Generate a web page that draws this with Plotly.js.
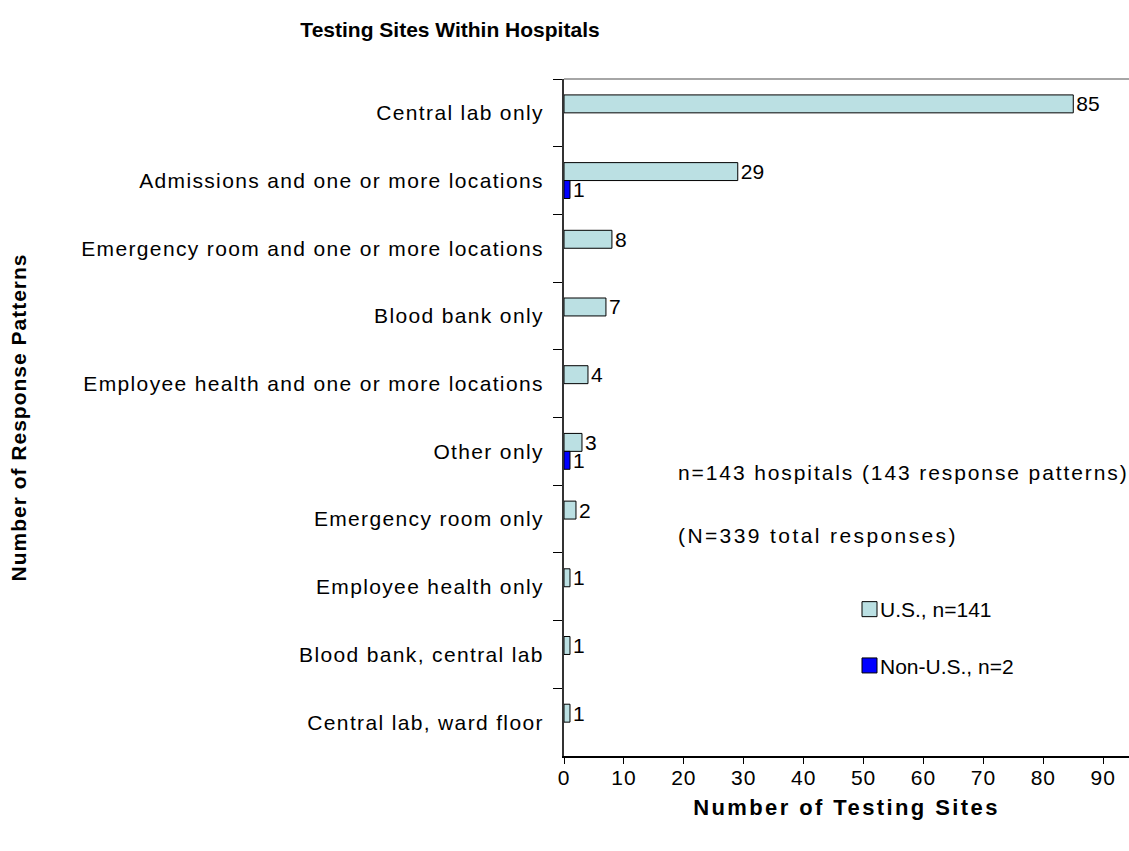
<!DOCTYPE html>
<html>
<head>
<meta charset="utf-8">
<script src="https://cdn.plot.ly/plotly-3.0.1.min.js"></script>
<style>
  html, body { margin: 0; padding: 0; background: #fff; }
  #chart { width: 1129px; height: 851px; }
</style>
</head>
<body>
<div id="chart"></div>
<script>
const categories = [
  "Central lab only",
  "Admissions and one or more locations",
  "Emergency room and one or more locations",
  "Blood bank only",
  "Employee health and one or more locations",
  "Other only",
  "Emergency room only",
  "Employee health only",
  "Blood bank, central lab",
  "Central lab, ward floor"
];
const usValues = [85, 29, 8, 7, 4, 3, 2, 1, 1, 1];
const nonUsValues = [null, 1, null, null, null, 1, null, null, null, null];
const seriesNames = ["U.S., n=141", "Non-U.S., n=2"];
const xTicks = [0, 10, 20, 30, 40, 50, 60, 70, 80, 90];
const notes = ["n=143 hospitals (143 response patterns)", "(N=339 total responses)"];

const FONT = "Liberation Sans, Arial, Helvetica, sans-serif";

const traces = [
  {
    type: "bar", orientation: "h", name: seriesNames[0], legendgroup: "us",
    y: categories, x: usValues,
    text: usValues.map(v => v == null ? "" : String(v)),
    textposition: "outside", cliponaxis: false, constraintext: "none",
    textfont: {family: FONT, size: 21, color: "#000"},
    marker: {color: "#BBE0E3", line: {color: "#000", width: 1}},
    hoverinfo: "x+y"
  },
  {
    type: "bar", orientation: "h", name: seriesNames[1], legendgroup: "nonus",
    y: categories, x: nonUsValues,
    text: nonUsValues.map(v => v == null ? "" : String(v)),
    textposition: "outside", cliponaxis: false, constraintext: "none",
    textfont: {family: FONT, size: 21, color: "#000"},
    marker: {color: "#0000FF", line: {color: "#000", width: 1}},
    hoverinfo: "x+y"
  }
];

const NOTE_X = (678 - 564) / 565;

const layout = {
  width: 1129, height: 851,
  margin: {l: 564, r: 0, t: 79, b: 95},
  paper_bgcolor: "#fff", plot_bgcolor: "#fff",
  font: {family: FONT, size: 21, color: "#000"},
  title: {
    text: "<b>Testing Sites Within Hospitals</b>",
    font: {family: FONT, size: 21, color: "#000"},
    x: 450 / 1129, xref: "container", xanchor: "center",
    y: 1 - 30 / 851, yref: "container", yanchor: "middle"
  },
  barmode: "group", bargap: 0.47, bargroupgap: 0,
  xaxis: {
    range: [0, 94.3], tickvals: xTicks, ticktext: xTicks.map(String),
    showgrid: false, zeroline: false,
    showline: true, linecolor: "#000", linewidth: 1.5,
    ticks: "outside", ticklen: 6, tickcolor: "#000", tickwidth: 1,
    ticklabelstandoff: -4,
    tickfont: {family: FONT, size: 21, color: "#000"},
    title: {text: "<b>Number of Testing Sites</b>", font: {family: FONT, size: 22, color: "#000"}, standoff: 12},
    fixedrange: true
  },
  yaxis: {
    type: "category", categoryorder: "array", categoryarray: categories,
    range: [9.5, -0.5],
    tickson: "boundaries",
    showgrid: false, zeroline: false,
    showline: true, linecolor: "#333", linewidth: 2,
    ticks: "outside", ticklen: 9, tickcolor: "#000", tickwidth: 1,
    ticklabelstandoff: 14,
    tickfont: {family: FONT, size: 21, color: "#000"},
    title: {text: "<b>Number of Response Patterns</b>", font: {family: FONT, size: 21, color: "#000"}, standoff: 103},
    fixedrange: true
  },
  showlegend: true,
  legend: {
    x: (840 - 564) / 565, xanchor: "left",
    y: (756 - 589) / 677, yanchor: "top",
    bgcolor: "rgba(0,0,0,0)", borderwidth: 0,
    traceorder: "grouped", tracegroupgap: 26,
    font: {family: FONT, size: 21, color: "#000"}
  },
  annotations: [
    {text: notes[0], xref: "paper", yref: "paper", x: NOTE_X, y: (756 - 472) / 677,
     xanchor: "left", yanchor: "middle", showarrow: false, font: {family: FONT, size: 21, color: "#000"}},
    {text: notes[1], xref: "paper", yref: "paper", x: NOTE_X, y: (756 - 535) / 677,
     xanchor: "left", yanchor: "middle", showarrow: false, font: {family: FONT, size: 21, color: "#000"}}
  ],
  shapes: [
    {type: "line", xref: "paper", yref: "paper", x0: 0, x1: 1, y0: 1, y1: 1,
     line: {color: "#888", width: 1.5}}
  ]
};

Plotly.newPlot("chart", traces, layout, {displayModeBar: false, responsive: false}).then(function (gd) {
  const fl = gd._fullLayout;
  const svgRect = gd.querySelector(".main-svg").getBoundingClientRect();
  // mimic the wide letter spacing of the original rendering
  gd.querySelectorAll(".yaxislayer-above .ytick text").forEach(function (t) { t.style.letterSpacing = "1.35px"; });
  gd.querySelectorAll(".xaxislayer-above .xtick text").forEach(function (t) { t.style.letterSpacing = "1px"; });
  const spacing = ["1.9px", "2.4px"];
  const targetLeft = fl.margin.l + NOTE_X * fl._size.w;
  gd.querySelectorAll(".annotation-text").forEach(function (t, i) {
    t.style.letterSpacing = spacing[i] || "0px";
    const r = t.getBoundingClientRect();
    const dx = targetLeft - (r.left - svgRect.left);
    const prev = t.getAttribute("transform") || "";
    t.setAttribute("transform", "translate(" + dx + ",0) " + prev);
  });
  gd.querySelectorAll("text.xtitle").forEach(function (t) { t.style.letterSpacing = "2.4px"; });
  gd.querySelectorAll("text.ytitle").forEach(function (t) { t.style.letterSpacing = "1px"; });
  // larger square legend swatch placed close to its label, as in the original
  gd.querySelectorAll(".legend .legendpoints path").forEach(function (p) {
    p.setAttribute("d", "M17,7.5H2V-7.5H17Z");
  });
});
</script>
</body>
</html>
